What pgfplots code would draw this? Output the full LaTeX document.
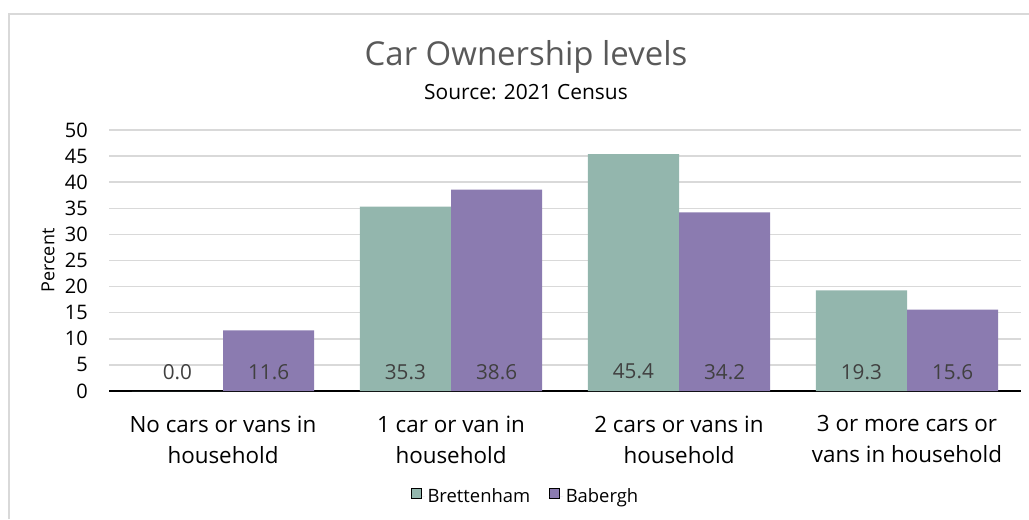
\documentclass[border=0pt]{standalone}
\usepackage{pgfplots}
\pgfplotsset{compat=1.18}
\usepackage{fontspec}
\setmainfont{Open Sans}
\definecolor{bret}{RGB}{147,182,173}
\definecolor{bab}{RGB}{139,123,176}
\definecolor{gridc}{RGB}{217,217,217}
\definecolor{titc}{RGB}{89,89,89}
\definecolor{valc}{RGB}{64,64,64}
\pgfplotsset{sqlegend/.style={legend image code/.code={\draw[##1,/tikz/.cd,yshift=0.25em] (0pt,-3.75pt) rectangle (7.5pt,3.75pt); \path (0pt,0pt) -- (10.5pt,0pt);}}}
\begin{document}
\begin{tikzpicture}
\path[use as bounding box] (0,0) rectangle (771.75pt,-389.25pt);
\draw[gridc, line width=1.1pt] (6.75pt,-389.25pt) -- (6.75pt,-10.5pt) -- (771.75pt,-10.5pt);
\node[text=titc, font=\fontsize{24.7}{28}\selectfont] at (394.5pt,-42.75pt) {Car Ownership levels};
\node[text=black, font=\fontsize{15.7}{18}\selectfont] at (394.5pt,-69pt) {Source: 2021 Census};
\begin{axis}[
  at={(81.75pt,-293.25pt)}, anchor=south west,
  scale only axis, width=684pt, height=195.75pt,
  xmin=-0.5, xmax=3.5, ymin=0, ymax=50,
  ytick={0,5,...,50},
  xtick={0,1,2,3},
  xticklabels={{No cars or vans in\\household},{1 car or van in\\household},{2 cars or vans in\\household},{3 or more cars or\\vans in household}},
  xticklabel style={align=center, font=\fontsize{16.8}{23.25}\selectfont, text=black, yshift=-15pt},
  yticklabel style={font=\fontsize{15}{18}\selectfont, text=black, inner sep=0pt, xshift=-15.75pt},
  /pgf/number format/assume math mode=true,
  major tick length=0pt,
  axis x line=bottom, axis y line=left,
  axis line style={-},
  x axis line style={black, line width=2.2pt},
  y axis line style={draw=none},
  ymajorgrids, grid style={gridc, line width=1.1pt},
  ylabel={Percent},
  every axis y label/.style={at={(rel axis cs:0,0.5)}, rotate=90, anchor=center, yshift=45.75pt, font=\fontsize{13.5}{16}\selectfont},
  legend style={draw=none, at={(0.457,-0.406)}, anchor=center, legend columns=2, font=\fontsize{13.8}{16}\selectfont, /tikz/every even column/.append style={column sep=12pt}},
  clip=false,
]
\addplot[ybar, bar width=0.4, bar shift=-0.2, fill=bret, draw=none, sqlegend] coordinates {(0,0) (1,35.3) (2,45.4) (3,19.3)};
\addlegendentry{Brettenham}
\addplot[ybar, bar width=0.4, bar shift=0.2, fill=bab, draw=none, sqlegend] coordinates {(0,11.6) (1,38.6) (2,34.2) (3,15.6)};
\addlegendentry{Babergh}
\addplot[forget plot, draw=none, mark=none, nodes near coords, point meta=explicit symbolic,
  every node near coord/.style={anchor=center, font=\fontsize{15.5}{18}\selectfont, text=valc}]
  coordinates {(-0.2,3.7)[0.0] (0.8,3.7)[35.3] (1.8,3.7)[45.4] (2.8,3.7)[19.3]};
\addplot[forget plot, draw=none, mark=none, nodes near coords, point meta=explicit symbolic,
  every node near coord/.style={anchor=center, font=\fontsize{15.5}{18}\selectfont, text=valc}]
  coordinates {(0.2,3.7)[11.6] (1.2,3.7)[38.6] (2.2,3.7)[34.2] (3.2,3.7)[15.6]};
\end{axis}
\end{tikzpicture}
\end{document}
